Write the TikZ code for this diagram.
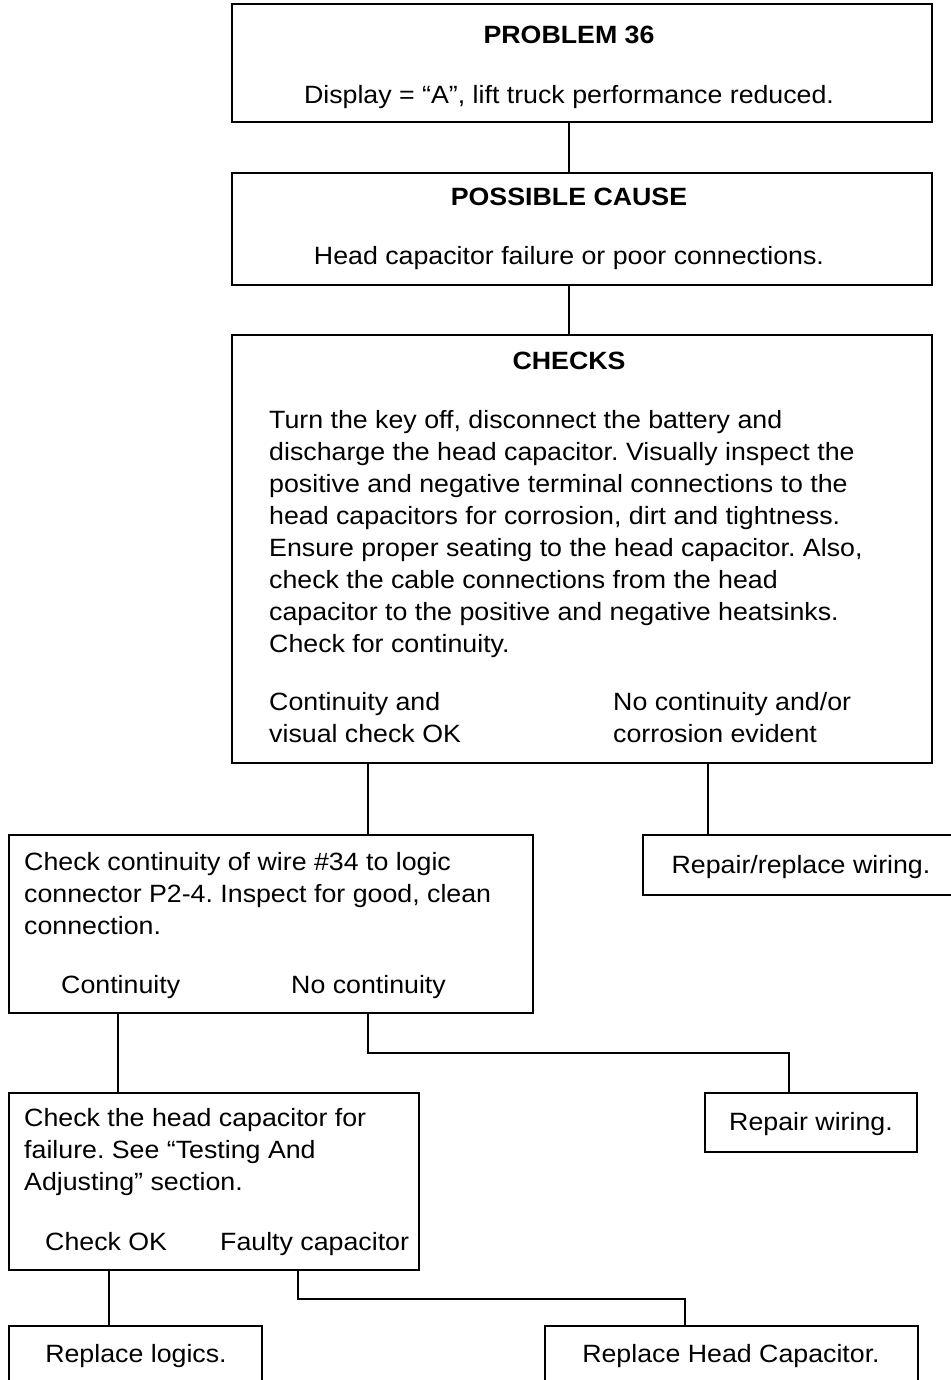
\documentclass[tikz,border=0pt]{standalone}
\usepackage{fontspec}
\setmainfont{Liberation Sans}[FakeStretch=1.07]
\frenchspacing
\begin{document}
\begin{tikzpicture}[x=1pt,y=-1pt,
  box/.style={draw, line width=1.3pt, inner sep=0pt},
  txt/.style={inner sep=0pt, font=\fontsize{25}{32}\selectfont},
  btxt/.style={inner sep=0pt, font=\fontsize{25}{32}\selectfont\bfseries},
  conn/.style={line width=1.1pt}]
\useasboundingbox (0,0) rectangle (950,1380);
% boxes
\node[box, minimum width=700, minimum height=118] (b1) at (582,63) {};
\node[box, minimum width=700, minimum height=112] (b2) at (582,229) {};
\node[box, minimum width=700, minimum height=428] (b3) at (582,549) {};
\node[box, minimum width=524, minimum height=178] (b4) at (271,924) {};
\node[box, minimum width=312, minimum height=60] (b5) at (799,865) {};
\node[box, minimum width=212, minimum height=59] (b6) at (811,1122.5) {};
\node[box, minimum width=410, minimum height=177] (b7) at (214,1181.5) {};
\node[box, minimum width=253, minimum height=60] (b8) at (135.5,1356) {};
\node[box, minimum width=373, minimum height=60] (b9) at (731.5,1356) {};
% texts
\node[btxt, anchor=base] (t1a) at (569,44) {PROBLEM 36};
\node[txt, anchor=base] (t1b) at (569,104) {Display = “A”, lift truck performance reduced.};
\node[btxt, anchor=base] (t2a) at (569,206) {POSSIBLE CAUSE};
\node[txt, anchor=base] (t2b) at (569,265) {Head capacitor failure or poor connections.};
\node[btxt, anchor=base] (t3a) at (569,369) {CHECKS};
\node[txt, anchor=base west, align=left] (t3b) at (269,652) {Turn the key off, disconnect the battery and\\discharge the head capacitor. Visually inspect the\\positive and negative terminal connections to the\\head capacitors for corrosion, dirt and tightness.\\Ensure proper seating to the head capacitor. Also,\\check the cable connections from the head\\capacitor to the positive and negative heatsinks.\\Check for continuity.};
\node[txt, anchor=base west, align=left] (t3c) at (269,742) {Continuity and\\visual check OK};
\node[txt, anchor=base west, align=left] (t3d) at (613,742) {No continuity and/or\\corrosion evident};
\node[txt, anchor=base west, align=left] (t4a) at (24,934) {Check continuity of wire \#34 to logic\\connector P2-4. Inspect for good, clean\\connection.};
\node[txt, anchor=base west] (t4b) at (61,993) {Continuity};
\node[txt, anchor=base west] (t4c) at (291,993) {No continuity};
\node[txt, anchor=base] (t5) at (801,873) {Repair/replace wiring.};
\node[txt, anchor=base] (t6) at (811,1130) {Repair wiring.};
\node[txt, anchor=base west, align=left] (t7a) at (24,1190) {Check the head capacitor for\\failure. See “Testing And\\Adjusting” section.};
\node[txt, anchor=base west] (t7b) at (45,1250) {Check OK};
\node[txt, anchor=base west] (t7c) at (220,1250) {Faulty capacitor};
\node[txt, anchor=base] (t8) at (136,1362) {Replace logics.};
\node[txt, anchor=base] (t9) at (731,1362) {Replace Head Capacitor.};
% connector coordinates
\coordinate (c12) at (569,0);
\coordinate (c34) at (368,0);
\coordinate (c35) at (708,0);
\coordinate (c46) at (368,0);
\coordinate (k46) at (789,1053);
\coordinate (c47) at (118,0);
\coordinate (c78) at (109,0);
\coordinate (c79) at (298,0);
\coordinate (k79) at (685,1299);
% connectors
\draw[conn] (b1.south -| c12) -- (b2.north -| c12);
\draw[conn] (b2.south -| c12) -- (b3.north -| c12);
\draw[conn] (b3.south -| c34) -- (b4.north -| c34);
\draw[conn] (b3.south -| c35) -- (b5.north -| c35);
\draw[conn] (b4.south -| c46) |- (k46) -- (b6.north -| k46);
\draw[conn] (b4.south -| c47) -- (b7.north -| c47);
\draw[conn] (b7.south -| c78) -- (b8.north -| c78);
\draw[conn] (b7.south -| c79) |- (k79) -- (b9.north -| k79);
\end{tikzpicture}
\end{document}
